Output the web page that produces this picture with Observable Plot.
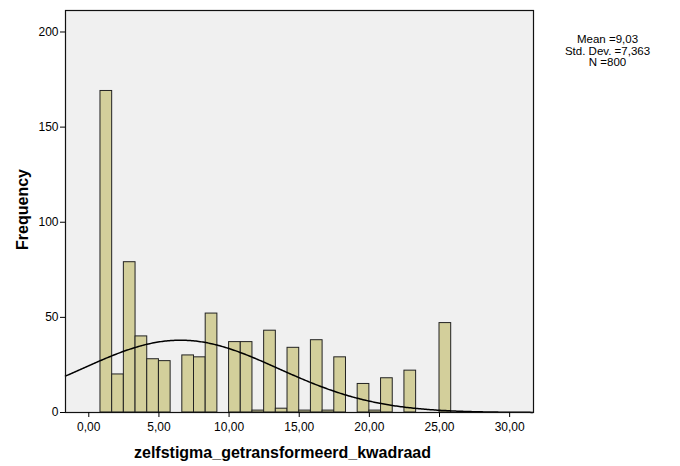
<!DOCTYPE html>
<html>
<head>
<meta charset="utf-8">
<script src="https://cdn.jsdelivr.net/npm/d3@7"></script>
<script src="https://cdn.jsdelivr.net/npm/@observablehq/plot@0.6"></script>
<style>
  html, body { margin: 0; padding: 0; background: #ffffff; }
</style>
</head>
<body>
<div id="chart"></div>
<script>
// Histogram bins: bin k spans [k*binWidth, (k+1)*binWidth]
const binWidth = 25 / 30;
const binIndex = [1,2,3,4,5,6,7,8,9,10,11,12,13,14,15,16,17,18,19,20,21,22,23,24,25,26,27,28,29,30];
const counts   = [169,20,79,40,28,27,0,30,29,52,0,37,37,1,43,2,34,1,38,1,29,0,15,1,18,0,22,0,0,47];

// Statistics shown in the legend box
const statMean = "9,03";
const statSd = "7,363";
const statN = "800";

// Normal curve as it appears in the picture
const curveCenter = 6.53;
const curveSd = 7.0;
const curveN = 800;

const xTicks = [0, 5, 10, 15, 20, 25, 30];
const yTicks = [0, 50, 100, 150, 200];

const bins = binIndex
  .map((k, i) => ({x1: k * binWidth, x2: (k + 1) * binWidth, count: counts[i]}))
  .filter(d => d.count > 0);

const xDomain = [-1.66, 31.7];
const amp = curveN * binWidth / (curveSd * Math.sqrt(2 * Math.PI));
const curve = d3.range(xDomain[0], xDomain[1] + 0.001, 0.1).map(x => ({
  x, y: amp * Math.exp(-((x - curveCenter) ** 2) / (2 * curveSd ** 2))
}));

const fmt = d => d.toFixed(2).replace(".", ",");

const chart = Plot.plot({
  width: 680,
  height: 466,
  marginLeft: 65,
  marginRight: 147,
  marginTop: 10,
  marginBottom: 54,
  style: {fontFamily: "'Liberation Sans', Arial, sans-serif", fontSize: "12px", background: "#ffffff", color: "#000"},
  x: {domain: xDomain},
  y: {domain: [0, 211.3]},
  marks: [
    Plot.frame({fill: "#f0f0f0", stroke: null}),
    Plot.rectY(bins, {x1: "x1", x2: "x2", y: "count", fill: "#d3cf9b", stroke: "#222", strokeWidth: 1, inset: 0}),
    Plot.line(curve, {x: "x", y: "y", stroke: "#000", strokeWidth: 1.5}),
    Plot.frame({stroke: "#111", strokeWidth: 1.2}),
    Plot.axisX({ticks: xTicks, tickFormat: fmt, tickSize: 5, tickPadding: 5, label: null, fontSize: 12}),
    Plot.axisY({ticks: yTicks, tickSize: 5, tickPadding: 2, label: null, fontSize: 12}),
    Plot.text(["zelfstigma_getransformeerd_kwadraad"], {frameAnchor: "bottom", text: d => d, dx: -17, dy: 45, fontSize: 16, fontWeight: "bold"}),
    Plot.text(["Frequency"], {frameAnchor: "left", text: d => d, rotate: -90, textAnchor: "middle", dx: -43, dy: -2, fontSize: 16, fontWeight: "bold"}),
    Plot.text([`Mean =${statMean}\nStd. Dev. =${statSd}\nN =${statN}`], {frameAnchor: "top-right", text: d => d, textAnchor: "middle", lineAnchor: "top", dx: 74, dy: 25, fontSize: 11.5, lineHeight: 0.97})
  ]
});
document.getElementById("chart").appendChild(chart);
</script>
</body>
</html>
